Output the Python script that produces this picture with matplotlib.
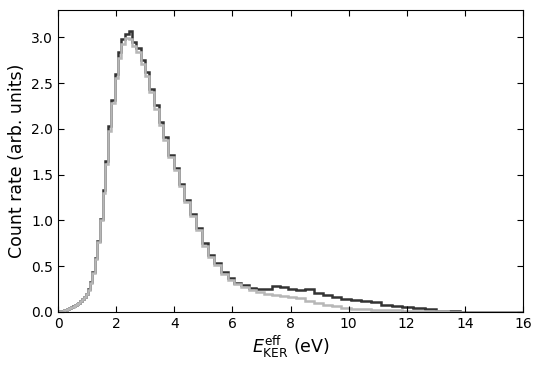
import numpy as np
import matplotlib
matplotlib.use("Agg")
import matplotlib.pyplot as plt

# histogram bins are uniform in E**(1/3)
cbrt_edges = np.arange(0, 106) * 0.024
edges = cbrt_edges ** 3

# dark histogram
counts_dark = [0.0, 0.0, 0.0, 0.0, 0.0001, 0.0002, 0.0003, 0.0005, 0.0007, 0.001,
               0.0013, 0.0017, 0.0022, 0.0027, 0.0034, 0.0041, 0.005, 0.006, 0.007, 0.0085,
               0.01, 0.0115, 0.013, 0.015, 0.017, 0.019, 0.022, 0.026, 0.03, 0.035,
               0.04, 0.045, 0.052, 0.06, 0.068, 0.077, 0.087, 0.1, 0.12, 0.14,
               0.165, 0.2, 0.25, 0.33, 0.44, 0.59, 0.78, 1.02, 1.33, 1.65,
               2.03, 2.32, 2.6, 2.84, 2.98, 3.04, 3.07, 2.95, 2.88, 2.75,
               2.62, 2.44, 2.26, 2.07, 1.91, 1.71, 1.57, 1.4, 1.22, 1.07,
               0.92, 0.75, 0.62, 0.53, 0.44, 0.37, 0.32, 0.29, 0.265, 0.25,
               0.255, 0.28, 0.27, 0.255, 0.24, 0.25, 0.21, 0.185, 0.16, 0.145,
               0.13, 0.12, 0.11, 0.08, 0.065, 0.052, 0.043, 0.035, 0.012, 0.006,
               0.003, 0.001, 0.0, 0.0, 0.0]

# light histogram
counts_light = [0.0, 0.0, 0.0, 0.0, 0.0001, 0.0002, 0.0003, 0.0005, 0.0007, 0.001,
                0.0013, 0.0017, 0.0021, 0.0026, 0.0033, 0.004, 0.0049, 0.0059, 0.0069, 0.0083,
                0.0098, 0.0113, 0.0127, 0.0147, 0.0167, 0.0186, 0.0216, 0.0255, 0.0294, 0.0343,
                0.039, 0.044, 0.051, 0.059, 0.067, 0.075, 0.085, 0.098, 0.117, 0.137,
                0.161, 0.195, 0.245, 0.32, 0.43, 0.58, 0.76, 1.0, 1.3, 1.62,
                1.98, 2.28, 2.56, 2.78, 2.93, 2.99, 2.98, 2.91, 2.84, 2.71,
                2.58, 2.4, 2.22, 2.04, 1.88, 1.69, 1.55, 1.38, 1.2, 1.05,
                0.9, 0.72, 0.6, 0.51, 0.42, 0.35, 0.3, 0.27, 0.24, 0.22,
                0.2, 0.19, 0.175, 0.165, 0.15, 0.125, 0.1, 0.08, 0.062, 0.045,
                0.035, 0.03, 0.025, 0.02, 0.016, 0.013, 0.01, 0.008, 0.006, 0.004,
                0.003, 0.002, 0.001, 0.0005, 0.0]

plt.rcParams['mathtext.fontset'] = 'dejavusans'

fig = plt.figure(figsize=(5.43, 3.67), dpi=100)
ax = fig.add_axes([0.107, 0.150, 0.856, 0.823])

ax.stairs(counts_dark, edges, color='#333333', lw=1.8)
ax.stairs(counts_light, edges, color='#b7b7b7', lw=1.8)

ax.set_xlim(0, 16)
ax.set_ylim(0, 3.3)
ax.set_xticks(np.arange(0, 17, 2))
ax.set_yticks(np.arange(0, 3.01, 0.5))
ax.yaxis.set_major_formatter(matplotlib.ticker.FormatStrFormatter('%.1f'))
ax.tick_params(direction='in', top=True, right=True, labelsize=10, length=4)
ax.set_xlabel(r'$E_{\mathrm{KER}}^{\mathrm{eff}}$ (eV)', fontsize=12.5, labelpad=2)
ax.set_ylabel('Count rate (arb. units)', fontsize=12.5)

fig.savefig('out.png', dpi=100)
